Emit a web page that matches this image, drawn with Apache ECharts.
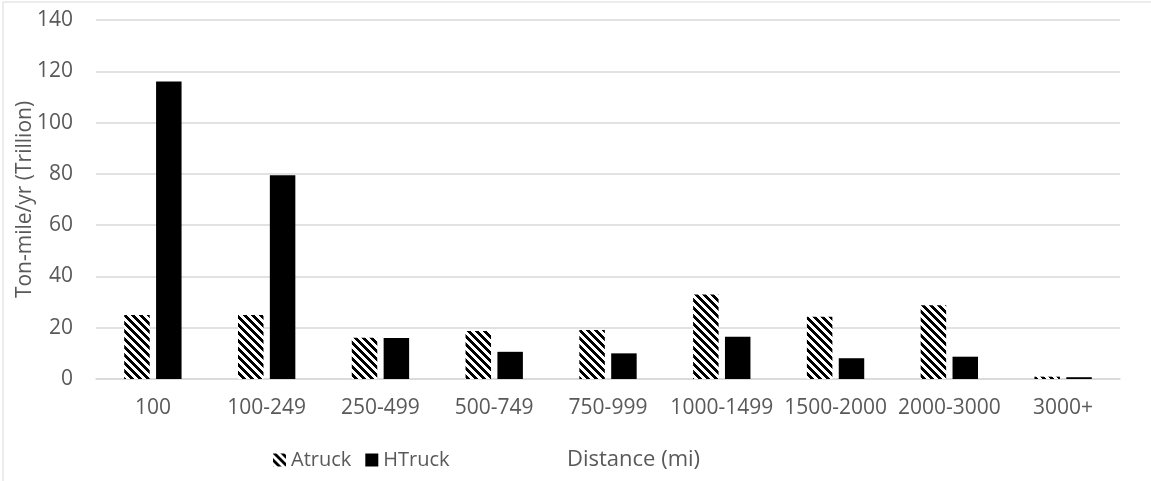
<!DOCTYPE html>
<html>
<head>
<meta charset="utf-8">
<script src="https://cdn.jsdelivr.net/npm/echarts@6/dist/echarts.min.js"></script>
<style>
html,body{margin:0;padding:0;background:#fff;}
#c{width:1151px;height:481px;}
</style>
</head>
<body>
<div id="c"></div>
<script>
const categories = ['100','100-249','250-499','500-749','750-999','1000-1499','1500-2000','2000-3000','3000+'];
const atruck = [25, 25, 16.1, 18.7, 19.1, 33, 24.3, 28.8, 0.9];
const htruck = [116, 79.5, 16, 10.6, 10, 16.5, 8.1, 8.7, 0.7];
const yTicks = [0, 20, 40, 60, 80, 100, 120, 140];

function makePattern() {
  const c = document.createElement('canvas');
  c.width = 8; c.height = 8;
  const ctx = c.getContext('2d');
  ctx.fillStyle = '#fff';
  ctx.fillRect(0, 0, 8, 8);
  ctx.fillStyle = '#000';
  for (let y = 0; y < 8; y++) {
    for (let x = 0; x < 8; x++) {
      if (((x - y) % 8 + 8) % 8 < 4) ctx.fillRect(x, y, 1, 1);
    }
  }
  return c;
}
const pat = { image: makePattern(), repeat: 'repeat' };

const FONT = '"Open Sans", "Noto Sans", sans-serif';
const TXT = '#595959';
const FS = 21;

const chart = echarts.init(document.getElementById('c'), null, {renderer: 'canvas'});
chart.setOption({
  animation: false,
  backgroundColor: '#fff',
  grid: {left: 96, right: 31, top: 20, bottom: 102},
  legend: {
    left: 268, top: 445,
    itemWidth: 13, itemHeight: 13, itemGap: 14,
    icon: 'rect',
    textStyle: {fontFamily: FONT, fontSize: 20, color: TXT, padding: [0,0,0,0]},
    data: ['Atruck', 'HTruck']
  },
  xAxis: {
    type: 'category',
    data: categories,
    axisLine: {lineStyle: {color: '#d9d9d9', width: 1.5}},
    axisTick: {show: false},
    axisLabel: {fontFamily: FONT, fontSize: FS, color: TXT, margin: 19, interval: 0}
  },
  yAxis: {
    type: 'value',
    min: yTicks[0], max: yTicks[yTicks.length-1], interval: 20,
    name: 'Ton-mile/yr (Trillion)',
    nameLocation: 'middle',
    nameGap: 60,
    nameMoveOverlap: false,
    nameTextStyle: {fontFamily: FONT, fontSize: FS, color: TXT},
    axisLine: {show: false},
    axisTick: {show: false},
    splitLine: {lineStyle: {color: '#d9d9d9', width: 1.5}},
    axisLabel: {fontFamily: FONT, fontSize: FS, color: TXT, margin: 23}
  },
  graphic: [
    {type: 'line', shape: {x1: 3, y1: 2, x2: 1151, y2: 2}, style: {stroke: '#d9d9d9', lineWidth: 1}, silent: true},
    {type: 'line', shape: {x1: 3, y1: 2, x2: 3, y2: 481}, style: {stroke: '#d9d9d9', lineWidth: 1}, silent: true},
    {type: 'text', left: 567, top: 449, style: {text: 'Distance (mi)', fontFamily: FONT, fontSize: 22, fill: TXT}}
  ],
  series: [
    {
      name: 'Atruck', type: 'bar', data: atruck,
      barWidth: '22.4%', barGap: '25%',
      itemStyle: {color: pat}
    },
    {
      name: 'HTruck', type: 'bar', data: htruck,
      barWidth: '22.4%',
      itemStyle: {color: '#000'}
    }
  ]
});
</script>
</body>
</html>
